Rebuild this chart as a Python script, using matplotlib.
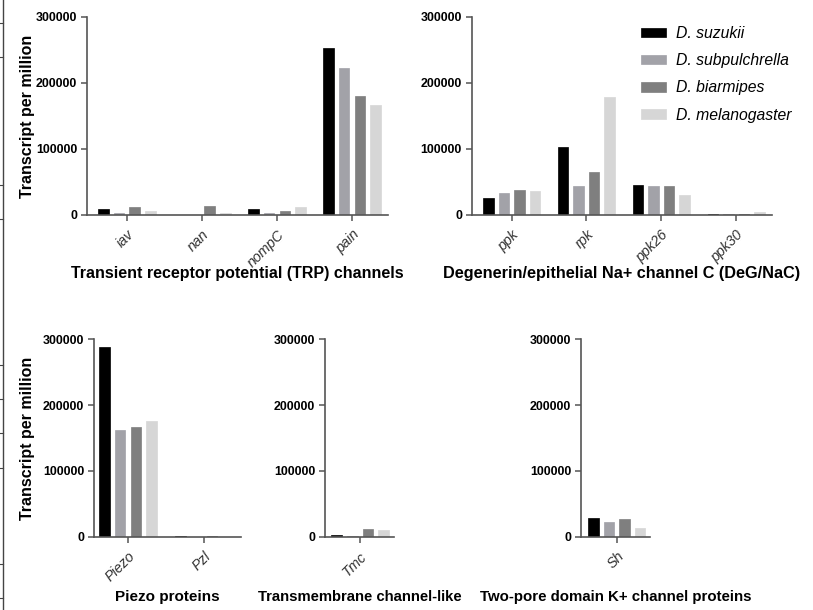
import matplotlib
matplotlib.use("Agg")
import matplotlib.pyplot as plt
from matplotlib.lines import Line2D
import numpy as np

plt.rcParams['font.family'] = ['Liberation Sans', 'DejaVu Sans']

species = ["D. suzukii", "D. subpulchrella", "D. biarmipes", "D. melanogaster"]
colors = ["#000000", "#a2a2a8", "#7f7f7f", "#d6d6d6"]

trp_genes = ["iav", "nan", "nompC", "pain"]
trp_vals = [
    [8600, 0, 9100, 253000],
    [3500, 0, 3500, 223000],
    [11600, 14200, 6600, 180000],
    [6000, 2500, 11600, 167000],
]

deg_genes = ["ppk", "rpk", "ppk26", "ppk30"]
deg_vals = [
    [26300, 103700, 45500, 2000],
    [32900, 44500, 44500, 800],
    [37900, 64800, 44500, 1800],
    [36400, 178600, 30400, 5000],
]

piezo_genes = ["Piezo", "Pzl"]
piezo_vals = [
    [287800, 400],
    [162200, 300],
    [166200, 400],
    [175300, 300],
]

tmc_genes = ["Tmc"]
tmc_vals = [[2000], [1000], [12000], [10600]]

sh_genes = ["Sh"]
sh_vals = [[27900], [21800], [27400], [13200]]

W, H = 813, 610
fig = plt.figure(figsize=(W / 100, H / 100), dpi=100)


def px_axes(left, right, top, bottom):
    return fig.add_axes([left / W, (H - bottom) / H, (right - left) / W, (bottom - top) / H])


def draw(ax, genes, vals, xlim, xlabel, ylabel=False, label_y=-0.265, label_size=11):
    x = np.arange(len(genes))
    stride = 0.207
    for i, (sp, c) in enumerate(zip(species, colors)):
        ax.bar(x + (i - 1.5) * stride, vals[i], width=0.14, color=c, edgecolor=c,
               linewidth=0.5, label=sp, zorder=2)
    ax.set_xlim(*xlim)
    ax.set_ylim(0, 300000)
    ax.set_yticks([0, 100000, 200000, 300000])
    ax.set_yticklabels(["0", "100000", "200000", "300000"], fontsize=8.9, fontweight='bold')
    ax.set_xticks(x)
    ax.set_xticklabels(genes, rotation=45, ha='right', va='top', rotation_mode='anchor',
                       fontsize=10.3, fontstyle='italic', color='#333333')
    for s in ['top', 'right']:
        ax.spines[s].set_visible(False)
    for s in ['left', 'bottom']:
        ax.spines[s].set_color('#555555')
        ax.spines[s].set_linewidth(1.2)
    ax.tick_params(axis='both', direction='out', length=4, width=1.1, color='#555555', pad=3)
    ax.tick_params(axis='x', pad=5)
    ax.set_xlabel(xlabel, fontsize=label_size, fontweight='bold')
    ax.xaxis.set_label_coords(0.5, label_y)
    if ylabel:
        ax.set_ylabel("Transcript per million", fontsize=11.5, fontweight='bold')


ax1 = px_axes(87, 388, 17, 215)
draw(ax1, trp_genes, trp_vals, (-0.533, 3.48), "Transient receptor potential (TRP) channels",
     ylabel=True, label_y=-0.26, label_size=11.5)
ax1.yaxis.set_label_coords(-0.172, 0.5)

ax2 = px_axes(471.7, 772, 17, 215)
draw(ax2, deg_genes, deg_vals, (-0.533, 3.48), "Degenerin/epithelial Na+ channel C (DeG/NaC)",
     label_y=-0.26, label_size=11.7)
leg = ax2.legend(loc='upper left', bbox_to_anchor=(0.565, 0.955), frameon=False,
                 prop={'size': 11.3, 'style': 'italic'}, handlelength=1.55, handleheight=0.55,
                 handletextpad=0.65, labelspacing=0.78, borderpad=0, borderaxespad=0)

ax3 = px_axes(94, 241, 339.3, 536.7)
draw(ax3, piezo_genes, piezo_vals, (-0.447, 1.487), "Piezo proteins", ylabel=True, label_y=-0.27)
ax3.yaxis.set_label_coords(-0.40, 0.5)

ax4 = px_axes(325, 394, 339.3, 536.7)
draw(ax4, tmc_genes, tmc_vals, (-0.467, 0.453), "Transmembrane channel-like", label_y=-0.27,
     label_size=10.7)

ax5 = px_axes(581, 650, 339.3, 536.7)
draw(ax5, sh_genes, sh_vals, (-0.476, 0.444), "Two-pore domain K+ channel proteins", label_y=-0.27,
     label_size=10.8)

# thin border line at the left edge (cropped neighbour figure)
fig.add_artist(Line2D([3 / W, 3 / W], [0, 1], color='#444444', linewidth=1.0))
for ty in [23, 57, 185, 219, 365, 399, 433, 468, 564, 598]:
    fig.add_artist(Line2D([0, 3 / W], [(H - ty) / H, (H - ty) / H], color='#444444', linewidth=0.8))

fig.savefig("out.png", dpi=100)
